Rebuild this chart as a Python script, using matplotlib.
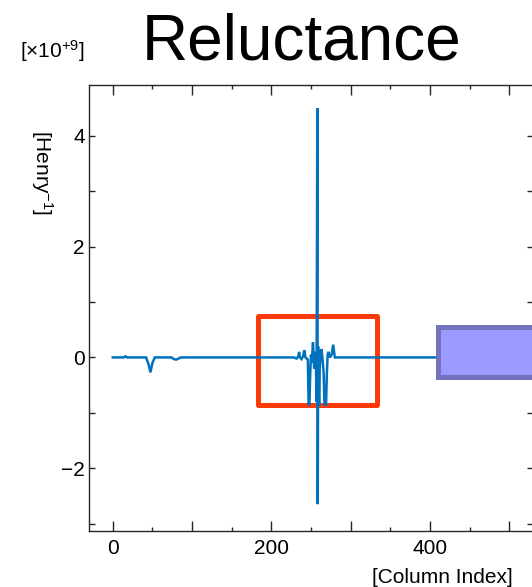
import matplotlib
matplotlib.use('Agg')
import matplotlib.pyplot as plt
from matplotlib.patches import Rectangle
from matplotlib.ticker import MultipleLocator, FuncFormatter

plt.rcParams['font.family'] = ['Liberation Sans', 'DejaVu Sans']
plt.rcParams['mathtext.fontset'] = 'custom'
plt.rcParams['mathtext.rm'] = 'Liberation Sans'
plt.rcParams['mathtext.it'] = 'Liberation Sans'

# ---- data (values in units of 1e9 Henry^-1) -----------------------------
col_index = [0, 14, 16, 18, 20, 42, 45, 47.5, 50, 53, 74, 77, 80, 83, 86,
             200, 228, 232, 234, 235, 236, 238, 240, 241.5, 243, 246,
             247, 248, 249, 250, 251, 252.5, 254, 256, 257, 258, 258.5,
             259, 260, 260.5, 261, 262, 263, 264, 265, 266, 267, 268, 269,
             270, 271, 272, 274, 276, 278, 280, 285, 512]
reluctance = [0, 0, 0.02, 0, 0, 0, -0.12, -0.27, -0.1, 0, 0, -0.03, -0.04,
              -0.02, 0, 0, 0, -0.02, 0.02, 0.1, 0, -0.03, 0.02, 0.13, 0,
              -0.04, -0.85, -0.85, -0.3, 0.05, -0.1, 0.27, -0.2, 0.1, -0.8,
              4.5, -2.65, 0.2, -0.85, -0.85, -0.2, 0.05, 0.15, 0.05, -0.1,
              -0.3, -0.85, -0.85, -0.85, -0.3, 0.05, 0.1, 0, 0.05, 0.23, 0,
              0, 0]

# highlight boxes (data coordinates)
red_box = (183.6, -0.865, 333.0, 0.745)
blue_box = (410.0, -0.35, 640.0, 0.55)

# ---- figure --------------------------------------------------------------
W, H = 532, 587
fig = plt.figure(figsize=(W / 100, H / 100), dpi=100)
ax = fig.add_axes([89 / W, 1 - 531 / H, 444 / W, 446 / H])

ax.plot(col_index, reluctance, color='#0072BD', lw=1.8, zorder=5,
        solid_joinstyle='miter')

x0, y0, x1, y1 = red_box
ax.add_patch(Rectangle((x0, y0), x1 - x0, y1 - y0, fill=False,
                       edgecolor='#ff3a0a', lw=3.6, joinstyle='round',
                       zorder=4))
x0, y0, x1, y1 = blue_box
ax.add_patch(Rectangle((x0, y0), x1 - x0, y1 - y0, facecolor='#9a9aff',
                       edgecolor='#7373bd', lw=3.6, zorder=6))

ax.set_xlim(-30, 530)
ax.set_ylim(-3.135, 4.92)

ax.xaxis.set_major_locator(MultipleLocator(100))
ax.xaxis.set_minor_locator(MultipleLocator(50))
ax.xaxis.set_major_formatter(FuncFormatter(
    lambda v, p: f'{v:.0f}' if round(v) % 200 == 0 else ''))
ax.yaxis.set_major_locator(MultipleLocator(1))
ax.yaxis.set_major_formatter(FuncFormatter(
    lambda v, p: (f'{v:.0f}'.replace('-', '\u2212'))
    if round(v) % 2 == 0 else ''))

ax.tick_params(axis='both', which='both', direction='in', top=True,
               right=True, color='#262626', labelsize=15, width=1.0)
ax.tick_params(axis='x', which='major', length=7, pad=6)
ax.tick_params(axis='x', which='minor', length=3)
ax.tick_params(axis='y', which='major', length=4.5, pad=3)
for s in ax.spines.values():
    s.set_color('#262626')
    s.set_linewidth(1.0)

fig.text(302 / W, 1 - 60 / H, 'Reluctance', fontsize=46, ha='center',
         va='baseline')
fig.text(20 / W, 1 - 58 / H, '[×10$^{+9}$]', fontsize=15, ha='left',
         va='baseline')
fig.text(42 / W, 1 - 130 / H, '[Henry$^{-1}$]', fontsize=15, rotation=270,
         ha='center', va='top')
fig.text(513 / W, 1 - 583 / H, '[Column Index]', fontsize=15, ha='right',
         va='baseline')

fig.savefig('out.png', dpi=100)
